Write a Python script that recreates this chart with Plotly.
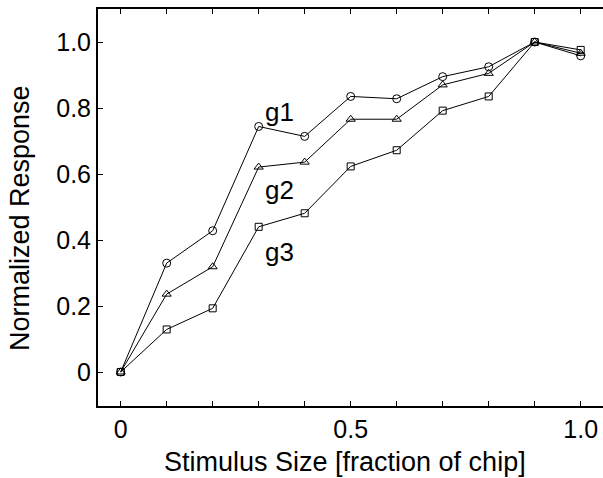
import plotly.graph_objects as go

x = [0.0, 0.1, 0.2, 0.3, 0.4, 0.5, 0.6, 0.7, 0.8, 0.9, 1.0]
g1 = [0.0, 0.330, 0.428, 0.744, 0.714, 0.835, 0.828, 0.895, 0.925, 1.0, 0.958]
g2 = [0.0, 0.236, 0.319, 0.621, 0.636, 0.766, 0.766, 0.870, 0.905, 1.0, 0.966]
g3 = [0.0, 0.129, 0.193, 0.440, 0.481, 0.623, 0.672, 0.792, 0.835, 1.0, 0.976]

series_names = ["g1", "g2", "g3"]
series_symbols = ["circle-open", "triangle-up-open", "square-open"]
label_x = [0.346, 0.346, 0.346]
label_y = [0.789, 0.552, 0.364]

x_tickvals = [0.0, 0.1, 0.2, 0.3, 0.4, 0.5, 0.6, 0.7, 0.8, 0.9, 1.0]
x_ticktext = ["0", "", "", "", "", "0.5", "", "", "", "", "1.0"]
y_tickvals = [0.0, 0.2, 0.4, 0.6, 0.8, 1.0]
y_ticktext = ["0", "0.2", "0.4", "0.6", "0.8", "1.0"]

FONT = "Liberation Sans, Arial, Helvetica, sans-serif"

fig = go.Figure()
for ys, name, sym in zip([g1, g2, g3], series_names, series_symbols):
    size = 7 if sym == "square-open" else 8
    fig.add_trace(go.Scatter(
        x=x, y=ys, mode="lines+markers", name=name,
        line=dict(color="black", width=1),
        marker=dict(symbol=sym, size=size, color="black",
                    line=dict(color="black", width=1)),
        showlegend=False,
    ))

for name, lx, ly in zip(series_names, label_x, label_y):
    fig.add_annotation(x=lx, y=ly, text=name, showarrow=False,
                       xanchor="center", yanchor="middle",
                       font=dict(family=FONT, size=26, color="black"))

fig.add_annotation(xref="paper", yref="paper", x=-0.154, y=0.474,
                   text="Normalized Response", textangle=-90, showarrow=False,
                   xanchor="center", yanchor="middle",
                   font=dict(family=FONT, size=27, color="black"))
fig.add_annotation(xref="paper", yref="paper", x=0.49, y=-0.14,
                   text="Stimulus Size [fraction of chip]", showarrow=False,
                   xanchor="center", yanchor="middle",
                   font=dict(family=FONT, size=27, color="black"))

fig.update_layout(
    width=603, height=478,
    margin=dict(l=98, r=0, t=9, b=72, autoexpand=False),
    paper_bgcolor="white", plot_bgcolor="white",
    font=dict(family=FONT, color="black"),
    xaxis=dict(
        range=[-0.0493, 1.0485], tickvals=x_tickvals, ticktext=x_ticktext,
        ticks="inside", ticklen=5, tickwidth=1, tickcolor="black",
        showline=True, linecolor="black", linewidth=2, mirror="ticks",
        showgrid=False, zeroline=False, automargin=False,
        tickfont=dict(family=FONT, size=25, color="black"),
    ),
    yaxis=dict(
        range=[-0.103, 1.1], tickvals=y_tickvals, ticktext=y_ticktext,
        ticks="inside", ticklen=5, tickwidth=1, tickcolor="black",
        showline=True, linecolor="black", linewidth=2, mirror=False,
        showgrid=False, zeroline=False, automargin=False,
        tickfont=dict(family=FONT, size=25, color="black"),
    ),
    yaxis2=dict(
        range=[-0.103, 1.1], tickvals=y_tickvals, overlaying="y", side="right",
        ticks="inside", ticklen=5, tickwidth=1, tickcolor="black",
        showticklabels=False, showline=False, showgrid=False, zeroline=False,
        automargin=False,
    ),
)

fig.write_html("out.html",
               config={"displayModeBar": False},
               post_script="document.body.style.margin='0';document.body.style.padding='0';")
